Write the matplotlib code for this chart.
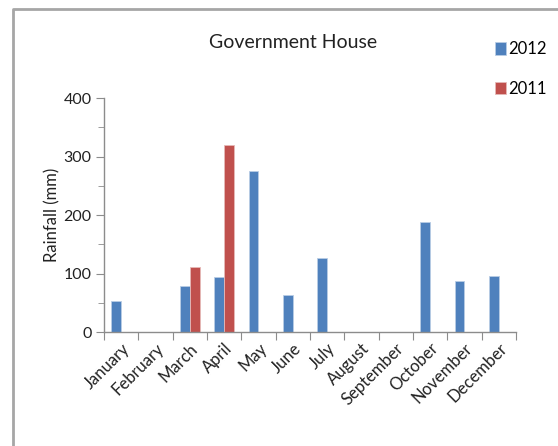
import matplotlib.pyplot as plt
import numpy as np
from matplotlib.lines import Line2D
from matplotlib.ticker import MultipleLocator

months = ["January", "February", "March", "April", "May", "June", "July",
          "August", "September", "October", "November", "December"]
rain_2012 = [53, 0, 79, 94, 275, 63, 126, 0, 0, 188, 88, 96]
rain_2011 = [0, 0, 111, 319, 0, 0, 0, 0, 0, 0, 0, 0]

blue = "#4F81BD"
red = "#C0504D"
grey = "#8C8C8C"

plt.rcParams["font.family"] = ["Lato", "DejaVu Sans"]

fig = plt.figure(figsize=(5.58, 4.46), dpi=100)
W, H = 558, 446

# outer chart frame (Excel style), only top and left edges are visible
fig.lines.append(Line2D([13 / W, 13 / W, 1.0], [0, 1 - 9 / H, 1 - 9 / H],
                        transform=fig.transFigure, color="#A6A6A6", lw=2))

ax = fig.add_axes([104 / W, 1 - 332 / H, (516 - 104) / W, (332 - 98) / H])

x = np.arange(len(months))
w = 0.29
ax.bar(x - w / 2, rain_2012, w, color=blue, edgecolor="#B9CDE5", lw=0.6, label="2012")
ax.bar(x + w / 2, rain_2011, w, color=red, edgecolor="#E6B9B8", lw=0.6, label="2011")

ax.set_xlim(-0.5, len(months) - 0.5)
ax.set_ylim(0, 400)
ax.yaxis.set_major_locator(MultipleLocator(100))
ax.yaxis.set_minor_locator(MultipleLocator(50))

ax.set_xticks(np.arange(len(months) + 1) - 0.5)
ax.set_xticklabels([])
ax.set_xticks(x, minor=True)
ax.set_xticklabels(months, minor=True, rotation=45, ha="right",
                   rotation_mode="anchor", fontsize=12, color="#222222")
ax.tick_params(axis="x", which="major", length=6, color=grey, direction="out")
ax.tick_params(axis="x", which="minor", length=0, pad=6)
ax.tick_params(axis="y", which="major", length=6, color=grey, labelsize=11.5,
               labelcolor="#222222", pad=3)
ax.tick_params(axis="y", which="minor", length=4, color=grey)

for s in ["top", "right"]:
    ax.spines[s].set_visible(False)
for s in ["left", "bottom"]:
    ax.spines[s].set_color(grey)
    ax.spines[s].set_linewidth(1)

ax.set_ylabel("Rainfall (mm)", fontsize=12, color="#222222", labelpad=2)

fig.text(293 / W, 1 - 42 / H, "Government House", ha="center", va="center",
         fontsize=14, color="#222222")

ax.legend(loc="upper left", bbox_to_anchor=(487 / W, 1 - 33 / H),
          bbox_transform=fig.transFigure, frameon=False, fontsize=12,
          handlelength=0.65, handleheight=0.75, handletextpad=0.15,
          labelspacing=1.4, borderpad=0)

fig.savefig("out.png", dpi=100)
